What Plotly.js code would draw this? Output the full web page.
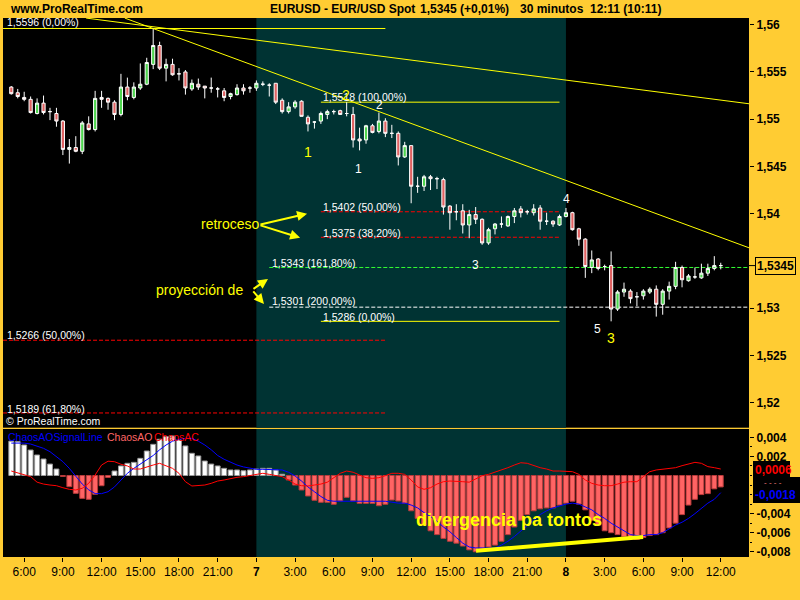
<!DOCTYPE html>
<html><head><meta charset="utf-8">
<script src="https://cdn.plot.ly/plotly-3.0.1.min.js"></script>
<style>html,body{margin:0;padding:0;background:#FFCC33;} #chart{width:800px;height:600px;}</style>
</head><body><div id="chart"></div>
<script>
// ---------- DATA ----------
const startHour = 5;        // first bar: day 6, 05:00 (hours counted from day 6 00:00)
const barStepHours = 0.5;   // 30-minute bars

const openP = [1.5534,1.5528,1.5523,1.5521,1.5506,1.5517,1.5508,1.5506,1.5498,1.5468,1.5470,1.5466,1.5495,1.5489,1.5523,1.5522,1.5518,1.5505,1.5534,1.5523,
1.5533,1.5537,1.5558,1.5578,1.5554,1.5558,1.5548,1.5550,1.5532,1.5537,1.5535,1.5533,1.5532,1.5530,1.5524,1.5526,1.5533,1.5533,1.5533,1.5537,
1.5536,1.5538,1.5520,1.5508,1.5513,1.5519,1.5502,1.5497,1.5498,1.5505,1.5508,1.5509,1.5506,1.5505,1.5479,1.5478,1.5493,1.5487,1.5498,1.5485,
1.5485,1.5460,1.5472,1.5429,1.5429,1.5439,1.5437,1.5436,1.5408,1.5402,1.5403,1.5388,1.5399,1.5394,1.5369,1.5384,1.5389,1.5387,1.5397,1.5405,
1.5402,1.5401,1.5406,1.5392,1.5392,1.5388,1.5397,1.5401,1.5384,1.5373,1.5343,1.5352,1.5344,1.5345,1.5299,1.5317,1.5318,1.5312,1.5313,1.5317,
1.5320,1.5304,1.5318,1.5323,1.5343,1.5329,1.5333,1.5332,1.5337,1.5342,1.5345];
const highP = [1.5535,1.5532,1.5529,1.5524,1.5522,1.5525,1.5512,1.5512,1.5499,1.5479,1.5482,1.5498,1.5503,1.5530,1.5530,1.5523,1.5520,1.5548,1.5544,1.5539,
1.5559,1.5565,1.5596,1.5582,1.5564,1.5564,1.5554,1.5552,1.5542,1.5543,1.5535,1.5544,1.5534,1.5533,1.5528,1.5537,1.5537,1.5535,1.5541,1.5540,
1.5538,1.5538,1.5522,1.5518,1.5520,1.5520,1.5504,1.5498,1.5508,1.5510,1.5510,1.5510,1.5518,1.5513,1.5491,1.5494,1.5495,1.5507,1.5501,1.5494,
1.5487,1.5476,1.5472,1.5439,1.5441,1.5441,1.5439,1.5438,1.5409,1.5410,1.5410,1.5404,1.5407,1.5395,1.5385,1.5390,1.5397,1.5398,1.5406,1.5408,
1.5404,1.5410,1.5409,1.5401,1.5393,1.5399,1.5406,1.5402,1.5385,1.5374,1.5361,1.5353,1.5346,1.5360,1.5319,1.5327,1.5320,1.5317,1.5320,1.5322,
1.5324,1.5320,1.5328,1.5349,1.5345,1.5336,1.5343,1.5347,1.5347,1.5355,1.5348];
const lowP = [1.5526,1.5522,1.5519,1.5506,1.5505,1.5505,1.5499,1.5492,1.5462,1.5453,1.5465,1.5463,1.5488,1.5487,1.5512,1.5510,1.5499,1.5503,1.5520,1.5521,
1.5531,1.5536,1.5553,1.5552,1.5540,1.5546,1.5541,1.5526,1.5530,1.5531,1.5522,1.5528,1.5523,1.5519,1.5521,1.5525,1.5526,1.5528,1.5530,1.5535,
1.5524,1.5516,1.5506,1.5506,1.5511,1.5503,1.5487,1.5490,1.5495,1.5500,1.5505,1.5505,1.5503,1.5470,1.5467,1.5474,1.5485,1.5485,1.5481,1.5480,
1.5451,1.5459,1.5411,1.5422,1.5424,1.5425,1.5426,1.5399,1.5383,1.5393,1.5379,1.5374,1.5389,1.5367,1.5367,1.5378,1.5385,1.5386,1.5390,1.5396,
1.5399,1.5398,1.5383,1.5388,1.5386,1.5387,1.5396,1.5382,1.5366,1.5332,1.5337,1.5340,1.5340,1.5286,1.5297,1.5312,1.5305,1.5302,1.5309,1.5315,
1.5291,1.5293,1.5309,1.5320,1.5322,1.5328,1.5331,1.5331,1.5334,1.5340,1.5341];
const closeP = [1.5527,1.5524,1.5521,1.5507,1.5517,1.5507,1.5508,1.5498,1.5468,1.5470,1.5466,1.5496,1.5489,1.5522,1.5521,1.5518,1.5505,1.5534,1.5524,1.5534,
1.5537,1.5560,1.5578,1.5554,1.5558,1.5547,1.5548,1.5533,1.5538,1.5534,1.5533,1.5533,1.5532,1.5523,1.5527,1.5533,1.5530,1.5533,1.5538,1.5537,
1.5536,1.5518,1.5508,1.5513,1.5518,1.5503,1.5495,1.5497,1.5506,1.5508,1.5508,1.5505,1.5506,1.5478,1.5477,1.5493,1.5486,1.5498,1.5485,1.5485,
1.5460,1.5472,1.5429,1.5429,1.5439,1.5437,1.5437,1.5407,1.5401,1.5402,1.5388,1.5399,1.5394,1.5369,1.5383,1.5389,1.5389,1.5397,1.5403,1.5401,
1.5402,1.5405,1.5392,1.5392,1.5389,1.5397,1.5401,1.5383,1.5373,1.5344,1.5351,1.5342,1.5344,1.5299,1.5317,1.5320,1.5310,1.5312,1.5318,1.5320,
1.5304,1.5318,1.5323,1.5343,1.5330,1.5334,1.5333,1.5337,1.5342,1.5345,1.5345];

const chaosAO = [0.0036,0.00355,0.0032,0.00267,0.00215,0.00173,0.0012,0.00068,-0.0001,-0.00117,-0.00187,-0.0024,-0.0025,-0.00197,-0.00107,-0.0002,0.00047,0.001,0.00128,0.00138,
0.0018,0.00257,0.00327,0.0038,0.00407,0.00414,0.00372,0.0031,0.00233,0.00205,0.00152,0.0012,0.001,0.00075,0.00058,0.00058,0.0005,0.00058,0.00068,0.00075,
0.00075,0.00058,0.00013,-0.00047,-0.001,-0.00152,-0.00215,-0.0026,-0.00281,-0.00281,-0.00302,-0.00267,-0.00229,-0.00267,-0.00292,-0.00292,-0.00292,-0.00317,-0.00302,-0.00257,
-0.00267,-0.0029,-0.0037,-0.0045,-0.0052,-0.0058,-0.0062,-0.0066,-0.0069,-0.0071,-0.0074,-0.0078,-0.008,-0.0077,-0.0075,-0.0073,-0.0069,-0.0062,-0.0054,-0.0047,
-0.0041,-0.0037,-0.0035,-0.0034,-0.0034,-0.0031,-0.0029,-0.0027,-0.003,-0.0036,-0.0047,-0.0052,-0.0058,-0.006,-0.0062,-0.0064,-0.0066,-0.0067,-0.0065,-0.0063,
-0.0062,-0.006,-0.0055,-0.005,-0.0041,-0.0031,-0.0025,-0.002,-0.0019,-0.0014,-0.0012];
const chaosAC = [0.00047,0.0003,0.00005,-0.00012,-0.0007,-0.0009,-0.001,-0.00107,-0.00128,-0.00145,-0.00152,-0.00134,-0.00082,0.00005,0.0011,0.0015,0.00145,0.00118,0.001,0.00068,
0.00068,0.00093,0.0011,0.00128,0.001,0.00075,0.00023,-0.00065,-0.0011,-0.00107,-0.001,-0.00082,-0.00058,-0.00047,-0.0003,-0.00019,-0.00012,-0.00002,0.00012,0.00023,
0.00012,-0.00002,-0.00012,-0.00047,-0.0009,-0.00107,-0.0011,-0.001,-0.0009,-0.0007,-0.00023,0.00023,0.00047,0.00034,0.00005,-0.00023,-0.0003,-0.00023,-0.00002,0.00023,
0.00023,0.00012,-0.00047,-0.0012,-0.00145,-0.00128,-0.0009,-0.00065,-0.00058,-0.00058,-0.00065,-0.0007,-0.00037,-0.00002,0.00012,0.00034,0.00058,0.00082,0.0011,0.00134,
0.00128,0.00103,0.00082,0.00068,0.00047,0.00047,0.0004,0.0004,0.00012,-0.00047,-0.00082,-0.001,-0.00107,-0.00107,-0.0009,-0.0007,-0.00065,-0.00065,-0.00012,0.0004,
0.00058,0.00065,0.00075,0.00082,0.00103,0.0012,0.00138,0.00128,0.00093,0.00082,0.00068];
const chaosAOSignal = [0.0034,0.0034,0.0034,0.0033,0.0031,0.00285,0.0025,0.002,0.00145,0.00075,-0.00012,-0.0009,-0.0015,-0.0019,-0.0019,-0.0017,-0.0012,-0.00047,0.00023,0.00075,
0.0012,0.0016,0.0021,0.0027,0.0032,0.0036,0.0038,0.0039,0.0039,0.0036,0.0032,0.0027,0.0021,0.0017,0.0014,0.0011,0.0009,0.00075,0.00065,0.00065,
0.00065,0.00065,0.00058,0.00034,-0.00005,-0.00058,-0.0012,-0.0017,-0.0022,-0.0026,-0.0027,-0.0027,-0.0027,-0.0027,-0.0027,-0.0027,-0.0027,-0.0027,-0.0027,-0.0028,
-0.0029,-0.0029,-0.0031,-0.0034,-0.0039,-0.0043,-0.0048,-0.0054,-0.0059,-0.0065,-0.0071,-0.0075,-0.0076,-0.0076,-0.0076,-0.0076,-0.0073,-0.0069,-0.0064,-0.0058,
-0.0052,-0.0046,-0.0041,-0.0037,-0.0034,-0.0032,-0.003,-0.0029,-0.003,-0.0033,-0.0036,-0.0041,-0.0045,-0.005,-0.0054,-0.0058,-0.0062,-0.0063,-0.0063,-0.0062,
-0.0062,-0.006,-0.0056,-0.0052,-0.0049,-0.0045,-0.004,-0.0034,-0.0029,-0.0025,-0.0018];

const tickHours = [6,9,12,15,18,21,24,27,30,33,36,39,42,45,48,51,54,57,60];
const tickLabels = ['6:00','9:00','12:00','15:00','18:00','21:00','<b>7</b>','3:00','6:00','9:00','12:00','15:00','18:00','21:00','<b>8</b>','3:00','6:00','9:00','12:00'];
const priceTicks = [1.52,1.525,1.53,1.54,1.545,1.55,1.555,1.56];
const priceTickLabels = ['1,52','1,525','1,53','1,54','1,545','1,55','1,555','1,56'];
const indTicks = [0.004,0.002,-0.004,-0.006,-0.008];
const indTickLabels = ['0,004','0,002','-0,004','-0,006','-0,008'];

// Fibonacci levels (price, label, start hour, end hour)
const fibPrices = [1.5596,1.5266,1.5189,1.5518,1.5402,1.5375,1.5286,1.5343,1.5301];
const fibLabels = ['1,5596 (0,00%)','1,5266 (50,00%)','1,5189 (61,80%)','1,5518 (100,00%)','1,5402 (50,00%)','1,5375 (38,20%)','1,5286 (0,00%)','1,5343 (161,80%)','1,5301 (200,00%)'];
const fibStartHour = [4.36,4.36,4.36,29,29,29,29,25,25];
const fibEndHour = [34,34,34,47.5,47.5,47.5,47.5,62.2,62.2];
const fibKind = ['edge','ret','ret','edge','ret','ret','edge','proj161','proj200'];

// trend lines
const trendStartHour = [13.8,10.8];
const trendStartPrice = [1.5607,1.5607];
const trendEndHour = [62.2,62.2];
const trendEndPrice = [1.53638,1.55163];

// divergence line on the oscillator
const divHours = [41.03,53.98];
const divValues = [-0.0079,-0.00645];

// wave labels: hour, price, text, kind
const waveHours = [28.00,30.95,33.51,31.92,40.95,48.01,50.48,51.49];
const wavePrices = [1.54655,1.55258,1.55153,1.54475,1.53452,1.54157,1.5278,1.52684];
const waveTexts = ['1','2','2','1','3','4','5','3'];
const waveYellow = [true,true,false,false,false,false,false,true];

// arrows (head / tail in hours & price)
const arrowHeadH = [27.93,27.39,24.90,24.59];
const arrowHeadP = [1.5400,1.53744,1.53309,1.53044];
const arrowTailH = [24.20,24.20,23.66,23.66];
const arrowTailP = [1.53881,1.53881,1.53193,1.53193];

const lastPrice = 1.5345;
const lastAC = '0,0006', lastSignal = '-0,0018';

// ---------- BUILD ----------
const times = openP.map((_, i) => startHour + i * barStepHours);
const PX = px => (px - 3) / 746;
const PY = py => (557 - py) / 539;
const FONT = 'Liberation Sans, Arial, sans-serif';

const traces = [
  {type:'candlestick', x:times, open:openP, high:highP, low:lowP, close:closeP,
   xaxis:'x', yaxis:'y', whiskerwidth:0, hoverinfo:'skip',
   increasing:{line:{color:'#FFFFFF', width:1}, fillcolor:'#4FD64F'},
   decreasing:{line:{color:'#FFFFFF', width:1}, fillcolor:'#E06262'}},
  {type:'bar', x:times, y:chaosAO, xaxis:'x', yaxis:'y2', width:0.38, hoverinfo:'skip',
   marker:{color:chaosAO.map(v => v >= 0 ? '#FFFFFF' : '#FF6464'),
           line:{color:chaosAO.map(v => v >= 0 ? '#9A9A9A' : '#B83A3A'), width:1}}},
  {type:'scatter', mode:'lines', x:times, y:chaosAOSignal, xaxis:'x', yaxis:'y2', line:{color:'#0000FF', width:1}, hoverinfo:'skip'},
  {type:'scatter', mode:'lines', x:times, y:chaosAC, xaxis:'x', yaxis:'y2', line:{color:'#FF0000', width:1}, hoverinfo:'skip'},
  {type:'scatter', mode:'lines', x:divHours, y:divValues, xaxis:'x', yaxis:'y2', line:{color:'#FFFF00', width:4}, hoverinfo:'skip'}
];

const shapes = [
  {type:'rect', xref:'x', yref:'y domain', x0:24, x1:48, y0:0, y1:1, fillcolor:'#003333', line:{width:0}, layer:'below'},
  {type:'rect', xref:'x', yref:'y2 domain', x0:24, x1:48, y0:0, y1:1, fillcolor:'#003333', line:{width:0}, layer:'below'}
];
const kindStyle = {edge:{color:'#FFFF00', dash:'solid'}, ret:{color:'#FF0000', dash:'4px,2px'},
                   proj161:{color:'#33FF33', dash:'4px,2px'}, proj200:{color:'#FFFFFF', dash:'4px,2px'}};
fibPrices.forEach((p, i) => {
  const st = kindStyle[fibKind[i]];
  shapes.push({type:'line', xref:'x', yref:'y', x0:fibStartHour[i], x1:fibEndHour[i], y0:p, y1:p,
               line:{color:st.color, width:1, dash:st.dash}, layer:'below'});
});
trendStartHour.forEach((h, i) => {
  shapes.push({type:'line', xref:'x', yref:'y', x0:h, y0:trendStartPrice[i], x1:trendEndHour[i], y1:trendEndPrice[i],
               line:{color:'#FFFF00', width:1}, layer:'above'});
});
// current price tick + indicator value boxes
shapes.push({type:'line', xref:'paper', yref:'y', x0:PX(749), x1:PX(755), y0:lastPrice, y1:lastPrice, line:{color:'#000', width:1}});
shapes.push({type:'rect', xref:'paper', yref:'paper', x0:PX(753), x1:PX(790), y0:PY(477), y1:PY(461), fillcolor:'#000', line:{width:0}});
shapes.push({type:'rect', xref:'paper', yref:'paper', x0:PX(753), x1:PX(800), y0:PY(503), y1:PY(477), fillcolor:'#000', line:{width:0}});

const ann = [];
function txt(text, px, py, opts) {
  ann.push(Object.assign({text:text, xref:'paper', yref:'paper', x:PX(px), y:PY(py), xanchor:'left', yanchor:'middle',
    showarrow:false, font:{family:FONT, size:12, color:'#000'}}, opts || {}));
}
// header
txt('<b>www.ProRealTime.com</b>', 8, 9.5);
txt('<b>EURUSD - EUR/USD Spot</b>', 268, 9.5);
txt('<b>1,5345 (+0,01%)</b>', 418, 9.5);
txt('<b>30 minutos</b>', 518, 9.5);
txt('<b>12:11 (10:11)</b>', 588, 9.5);
// fib labels
const fibLabelPos = [[5,22],[5,335],[5,409],[321,97],[321,206.5],[321,233],[321,317],[270,262.5],[270,301]];
fibLabels.forEach((t, i) => txt(t, fibLabelPos[i][0], fibLabelPos[i][1], {font:{family:FONT, size:10.5, color:'#FFFFFF'}}));
txt('© ProRealTime.com', 4, 421, {font:{family:FONT, size:10.5, color:'#FFFFFF'}});
// wave labels
waveTexts.forEach((t, i) => ann.push({text:t, xref:'x', yref:'y', x:waveHours[i], y:wavePrices[i], showarrow:false,
  font:{family:FONT, size:waveYellow[i] ? 14 : 12, color:waveYellow[i] ? '#FFFF00' : '#FFFFFF'}}));
// comments
txt('retroceso', 199, 224.5, {font:{family:FONT, size:14, color:'#FFFF00'}});
txt('proyección de', 154, 289.5, {font:{family:FONT, size:14, color:'#FFFF00'}});
arrowHeadH.forEach((h, i) => ann.push({text:'', xref:'x', yref:'y', x:h, y:arrowHeadP[i], axref:'x', ayref:'y',
  ax:arrowTailH[i], ay:arrowTailP[i], showarrow:true, arrowhead:2, arrowsize:1, arrowwidth:2, arrowcolor:'#FFFF00'}));
txt('<b>divergencia pa tontos</b>', 509, 520, {xanchor:'center', font:{family:FONT, size:18, color:'#FFFF00'}});
// oscillator legend
txt('ChaosAOSignalLine', 6, 436.5, {font:{family:FONT, size:10.5, color:'#0000FF'}});
txt('ChaosAO', 105, 436.5, {font:{family:FONT, size:10.5, color:'#FF6666'}});
txt('ChaosAC', 152, 436.5, {font:{family:FONT, size:10.5, color:'#FF0000'}});
// right side value labels
ann.push({text:'<b>1,5345</b>', xref:'paper', yref:'y', x:PX(755), y:lastPrice, xanchor:'left', yanchor:'middle', showarrow:false,
  bgcolor:'#FFCC33', bordercolor:'#000', borderwidth:1, borderpad:1, font:{family:FONT, size:12, color:'#000'}});
txt('<b>' + lastAC + '</b>', 753, 470, {font:{family:FONT, size:12, color:'#FF0000'}});
txt('- - - -', 762, 482, {font:{family:FONT, size:8, color:'#FF8080'}});
txt('<b>' + lastSignal + '</b>', 753, 495, {font:{family:FONT, size:12, color:'#0000FF'}});

const layout = {
  width:800, height:600, autosize:false,
  paper_bgcolor:'#FFCC33', plot_bgcolor:'#000000',
  margin:{l:3, r:51, t:18, b:43}, showlegend:false, separators:',.',
  font:{family:FONT, size:12, color:'#000'},
  xaxis:{range:[4.357, 62.19], anchor:'y2', tickvals:tickHours, ticktext:tickLabels, ticks:'outside', ticklen:4, tickcolor:'#000',
         showgrid:false, zeroline:false, showline:false, rangeslider:{visible:false}, fixedrange:true,
         tickfont:{family:FONT, size:12, color:'#000'}},
  yaxis:{domain:[0.2399, 1], range:[1.51734, 1.56071], side:'right', anchor:'x', tickvals:priceTicks, ticktext:priceTickLabels,
         ticks:'outside', ticklen:4, tickcolor:'#000', showgrid:false, zeroline:false, showline:false, fixedrange:true,
         tickfont:{family:FONT, size:12, color:'#000', weight:'bold'}},
  yaxis2:{domain:[0, 0.2375], range:[-0.00855, 0.00488], side:'right', anchor:'x', tickvals:indTicks, ticktext:indTickLabels,
         ticks:'outside', ticklen:4, tickcolor:'#000', showgrid:false, zeroline:false, showline:false, fixedrange:true,
         minor:{dtick:0.001, ticks:'outside', ticklen:2, tickcolor:'#000'},
         tickfont:{family:FONT, size:12, color:'#000', weight:'bold'}},
  shapes:shapes, annotations:ann
};
Plotly.newPlot('chart', traces, layout, {staticPlot:true, displayModeBar:false});
</script></body></html>
